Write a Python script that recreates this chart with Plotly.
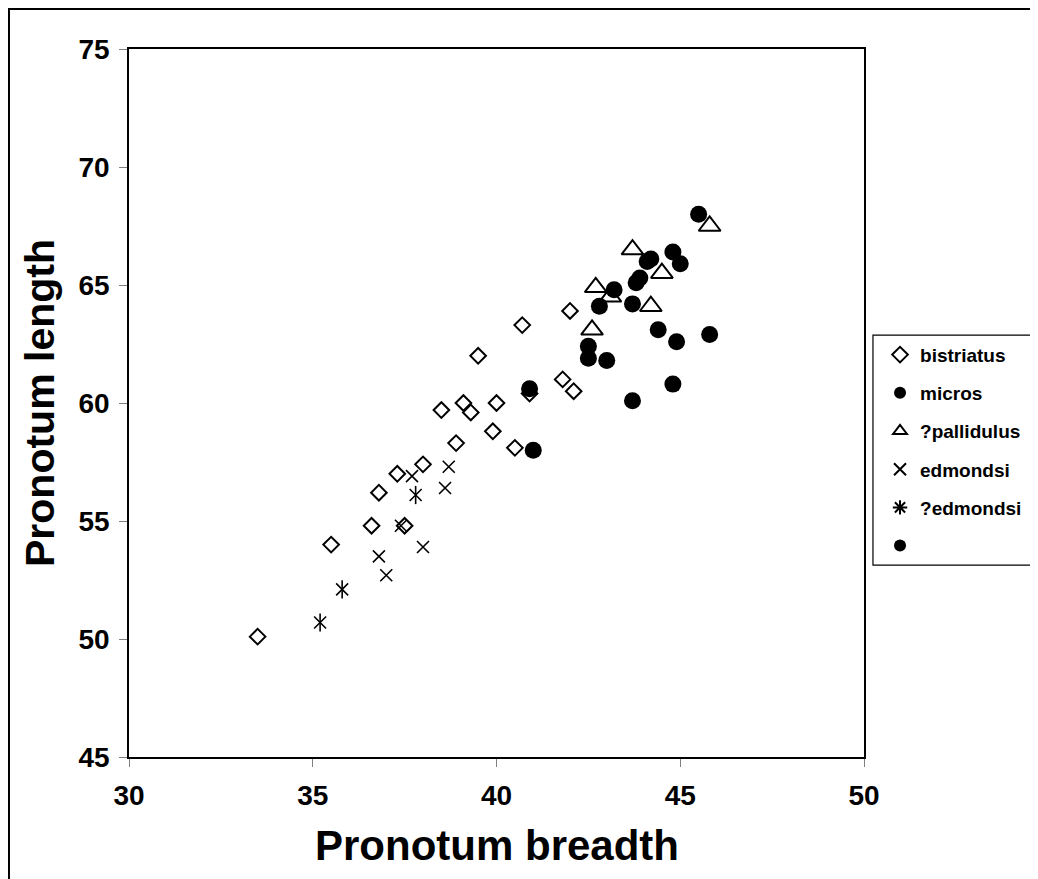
import plotly.graph_objects as go

# ---------------- data ----------------
bistriatus_x = [33.5, 35.5, 36.6, 36.8, 37.3, 37.5, 38.0, 38.5, 38.9, 39.1,
                39.3, 39.5, 39.9, 40.0, 40.5, 40.7, 40.9, 41.8, 42.0, 42.1]
bistriatus_y = [50.1, 54.0, 54.8, 56.2, 57.0, 54.8, 57.4, 59.7, 58.3, 60.0,
                59.6, 62.0, 58.8, 60.0, 58.1, 63.3, 60.4, 61.0, 63.9, 60.5]

micros_x = [45.5, 44.2, 44.1, 44.8, 45.0, 43.9, 43.8, 43.2, 42.8, 43.7,
            44.4, 44.9, 45.8, 42.5, 42.5, 43.0, 44.8, 43.7, 40.9, 41.0]
micros_y = [68.0, 66.1, 66.0, 66.4, 65.9, 65.3, 65.1, 64.8, 64.1, 64.2,
            63.1, 62.6, 62.9, 62.4, 61.9, 61.8, 60.8, 60.1, 60.6, 58.0]

pallidulus_x = [45.8, 43.7, 44.5, 42.7, 43.1, 44.2, 42.6]
pallidulus_y = [67.5, 66.5, 65.5, 64.9, 64.5, 64.1, 63.1]

edmondsi_x = [36.8, 37.0, 38.0, 38.6, 38.7, 37.7, 37.4]
edmondsi_y = [53.5, 52.7, 53.9, 56.4, 57.3, 56.9, 54.8]

q_edmondsi_x = [35.2, 35.8, 37.8]
q_edmondsi_y = [50.7, 52.1, 56.1]

x_ticks = [30, 35, 40, 45, 50]
y_ticks = [45, 50, 55, 60, 65, 70, 75]

x_title = "Pronotum breadth"
y_title = "Pronotum length"

FONT = "Liberation Sans, Arial, sans-serif"
BLACK = "#000000"

fig = go.Figure()

fig.add_trace(go.Scatter(
    x=bistriatus_x, y=bistriatus_y, mode="markers", name="bistriatus",
    legendgroup="g1",
    marker=dict(symbol="diamond-open", size=12, color=BLACK,
                line=dict(width=2, color=BLACK))))

fig.add_trace(go.Scatter(
    x=micros_x, y=micros_y, mode="markers", name="micros",
    legendgroup="g2",
    marker=dict(symbol="circle", size=17, color=BLACK,
                line=dict(width=0))))

fig.add_trace(go.Scatter(
    x=pallidulus_x, y=pallidulus_y, mode="markers", name="?pallidulus",
    legendgroup="g3",
    marker=dict(symbol="triangle-up-open", size=19, color=BLACK,
                line=dict(width=2, color=BLACK))))

fig.add_trace(go.Scatter(
    x=edmondsi_x, y=edmondsi_y, mode="markers", name="edmondsi",
    legendgroup="g4",
    marker=dict(symbol="x-thin-open", size=12, color=BLACK,
                line=dict(width=1.6, color=BLACK))))

# ?edmondsi : X plus vertical stroke (Excel-style asterisk)
fig.add_trace(go.Scatter(
    x=q_edmondsi_x, y=q_edmondsi_y, mode="markers", name="?edmondsi",
    legendgroup="g5", showlegend=False,
    marker=dict(symbol="x-thin-open", size=12, color=BLACK,
                line=dict(width=1.6, color=BLACK))))
fig.add_trace(go.Scatter(
    x=q_edmondsi_x, y=q_edmondsi_y, mode="markers", name="?edmondsi",
    legendgroup="g5", showlegend=False,
    marker=dict(symbol="line-ns-open", size=13, color=BLACK,
                line=dict(width=1.6, color=BLACK))))
fig.add_trace(go.Scatter(
    x=[None], y=[None], mode="markers", name="?edmondsi",
    legendgroup="g5",
    marker=dict(symbol="asterisk-open", size=12, color=BLACK,
                line=dict(width=1.6, color=BLACK))))

# unnamed sixth series
fig.add_trace(go.Scatter(
    x=[None], y=[None], mode="markers", name=" ",
    legendgroup="g6",
    marker=dict(symbol="circle", size=10, color=BLACK)))

axis_common = dict(
    showline=True, linecolor=BLACK, linewidth=1.5, mirror=True,
    showgrid=False, zeroline=False, automargin=False,
    ticks="outside", ticklen=8, tickwidth=1, tickcolor="#808080",
    tickfont=dict(family=FONT, size=28, color=BLACK, weight="bold"),
)

fig.update_layout(
    width=1030, height=871,
    margin=dict(l=121, r=174, t=41, b=122, autoexpand=False),
    paper_bgcolor="white", plot_bgcolor="white",
    font=dict(family=FONT, color=BLACK),
    xaxis=dict(range=[30, 50], tickvals=x_ticks, ticklabelstandoff=5, **axis_common),
    yaxis=dict(range=[45, 75], tickvals=y_ticks, ticklabelstandoff=4, **axis_common,
               title=dict(text=y_title, standoff=11,
                          font=dict(family=FONT, size=41, color=BLACK, weight="bold"))),
    annotations=[
        dict(text=x_title, xref="paper", yref="paper", x=0.5, y=0,
             xanchor="center", yanchor="middle", yshift=-88, showarrow=False,
             font=dict(family=FONT, size=42, color=BLACK, weight="bold")),
    ],
    legend=dict(x=1.0218, xanchor="left", y=0.595, yanchor="top",
                bgcolor="rgba(0,0,0,0)", borderwidth=0,
                font=dict(family=FONT, size=19, color=BLACK, weight="bold"),
                tracegroupgap=10.5, itemsizing="constant"),
    shapes=[
        # outer chart border
        dict(type="rect", xref="paper", yref="paper",
             x0=-0.1633, x1=1.30, y0=-0.25, y1=1.0565,
             line=dict(color=BLACK, width=2), fillcolor="rgba(0,0,0,0)", layer="below"),
        # legend box
        dict(type="rect", xref="paper", yref="paper",
             x0=1.0122, x1=1.30, y0=0.271, y1=0.596,
             line=dict(color=BLACK, width=1.2), fillcolor="rgba(0,0,0,0)", layer="below"),
    ],
)

fig.write_html("out.html")
